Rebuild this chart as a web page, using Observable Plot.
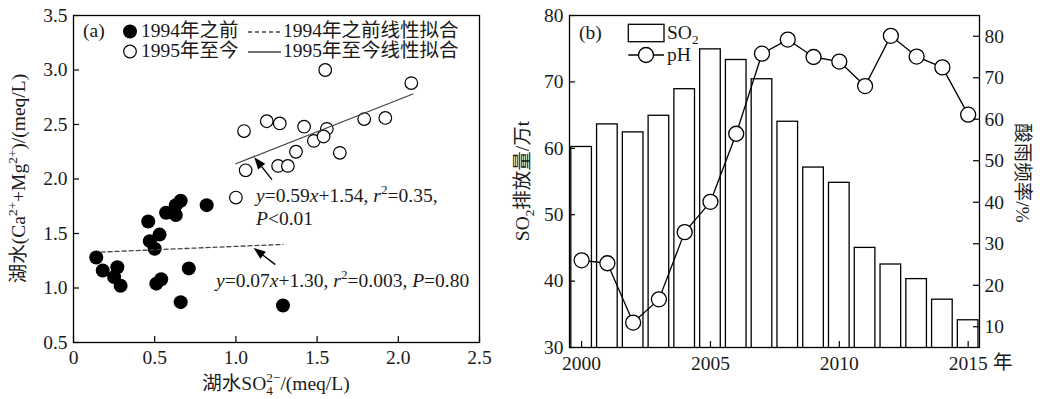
<!DOCTYPE html>
<html>
<head>
<meta charset="utf-8">
<script src="https://cdn.jsdelivr.net/npm/d3@7"></script>
<script src="https://cdn.jsdelivr.net/npm/@observablehq/plot@0.6"></script>
<style>
  html, body { margin: 0; padding: 0; background: #fff; }
  #wrap { position: relative; width: 1040px; height: 399px; overflow: hidden; }
  #wrap svg { position: absolute; top: 0; overflow: visible; }
</style>
</head>
<body>
<div id="wrap"></div>
<script>
// ---------------- Panel (a) data ----------------
const pre1994X  = [0.14, 0.18, 0.27, 0.25, 0.29, 0.46, 0.53, 0.47, 0.50, 0.51, 0.54, 0.66, 0.71, 0.57, 0.63, 0.63, 0.66, 0.82, 1.29];
const pre1994Y  = [1.28, 1.16, 1.19, 1.10, 1.02, 1.61, 1.49, 1.43, 1.36, 1.04, 1.08, 0.87, 1.18, 1.69, 1.67, 1.76, 1.80, 1.76, 0.84];
const post1995X = [1.05, 1.19, 1.27, 1.42, 1.56, 1.55, 1.79, 1.92, 2.08, 1.48, 1.54, 1.37, 1.64, 1.26, 1.32, 1.06, 1.00];
const post1995Y = [2.44, 2.53, 2.51, 2.48, 2.46, 3.00, 2.55, 2.56, 2.88, 2.35, 2.39, 2.25, 2.24, 2.12, 2.12, 2.08, 1.83];
const fitPreX  = [0.17, 1.29];
const fitPreY  = [1.33, 1.40];
const fitPostX = [1.00, 2.09];
const fitPostY = [2.14, 2.78];
// annotation arrows (tail -> tip), data units
const arrowX1 = [1.225, 1.246];
const arrowY1 = [1.99, 1.21];
const arrowX2 = [1.116, 1.112];
const arrowY2 = [2.195, 1.363];
const xTicksA = [0, 0.5, 1.0, 1.5, 2.0, 2.5];
const yTicksA = [0.5, 1.0, 1.5, 2.0, 2.5, 3.0, 3.5];

// ---------------- Panel (b) data ----------------
const years    = [2000, 2001, 2002, 2003, 2004, 2005, 2006, 2007, 2008, 2009, 2010, 2011, 2012, 2013, 2014, 2015];
const so2      = [60.2, 63.6, 62.4, 64.9, 68.9, 74.9, 73.3, 70.4, 64.0, 57.1, 54.8, 45.0, 42.5, 40.3, 37.2, 34.1];
const acidRain = [26.0, 25.3, 11.0, 16.6, 32.8, 40.1, 56.5, 75.8, 79.2, 75.0, 73.9, 68.0, 80.1, 75.1, 72.5, 61.1];
const xTicksB  = [2000, 2005, 2010, 2015];
const yTicksBL = [30, 40, 50, 60, 70, 80];
const yTicksBR = [10, 20, 30, 40, 50, 60, 70, 80];

// ---------------- common ----------------
const FONT = '"Liberation Serif", "Times New Roman", "Noto Sans CJK SC", serif';
const FS = 19.5;
const INK = "#1a1a1a";
const wrap = document.getElementById("wrap");
const fmt1 = d => d === 0 ? "0" : d.toFixed(1);

function scaleFn(chart, name) {
  const s = chart.scale(name);
  return s.apply ? (v => s.apply(v)) : d3.scaleLinear(s.domain, s.range);
}
// rich text helper: parts = [{t, i(italic), sup, sub, dx}]
function rich(sel, parts, size) {
  let shift = 0;
  for (const p of parts) {
    const ts = sel.append("tspan").text(p.t);
    let target = 0;
    if (p.sup) target = -0.42 * size;
    if (p.sub) target = 0.28 * size;
    const dy = target - shift;
    if (dy !== 0) ts.attr("dy", dy);
    shift = target;
    if (p.dx) ts.attr("dx", p.dx);
    if (p.sup || p.sub) ts.attr("font-size", size * 0.68);
    if (p.i) ts.attr("font-style", "italic");
  }
  return sel;
}

// ================= Panel (a) =================
const WA = 520, HA = 399, mlA = 73, mrA = 41, mtA = 15, mbA = 57;
const innerWA = WA - mlA - mrA, innerHA = HA - mtA - mbA;
const ptsPre  = pre1994X.map((x, i) => ({x, y: pre1994Y[i]}));
const ptsPost = post1995X.map((x, i) => ({x, y: post1995Y[i]}));
const fitPre  = fitPreX.map((x, i) => ({x, y: fitPreY[i]}));
const fitPost = fitPostX.map((x, i) => ({x, y: fitPostY[i]}));

const chartA = Plot.plot({
  width: WA, height: HA,
  marginLeft: mlA, marginRight: mrA, marginTop: mtA, marginBottom: mbA,
  style: {fontFamily: FONT, fontSize: FS + "px", color: INK, background: "none", overflow: "visible"},
  x: {domain: [0, 2.5]},
  y: {domain: [0.5, 3.5]},
  marks: [
    Plot.dot(ptsPre, {x: "x", y: "y", r: 7, fill: "#000", stroke: "none"}),
    Plot.dot(ptsPost, {x: "x", y: "y", r: 6.3, fill: "white", stroke: "#000", strokeWidth: 1.2}),
    Plot.line(fitPre, {x: "x", y: "y", stroke: "#444", strokeWidth: 1.3, strokeDasharray: "4,3"}),
    Plot.line(fitPost, {x: "x", y: "y", stroke: "#444", strokeWidth: 1.3}),
    Plot.frame({stroke: "#000", strokeWidth: 1.3}),
    Plot.tickX(xTicksA, {x: d => d, insetTop: innerHA - 6, stroke: "#000", strokeWidth: 1.2}),
    Plot.tickY(yTicksA, {y: d => d, insetRight: innerWA - 6, stroke: "#000", strokeWidth: 1.2}),
    Plot.axisX({ticks: xTicksA, tickSize: 0, tickPadding: 8, tickFormat: fmt1, label: null}),
    Plot.axisY({ticks: yTicksA, tickSize: 0, tickPadding: 6, tickFormat: fmt1, label: null})
  ]
});
chartA.style.left = "0px";
wrap.appendChild(chartA);

{
  const svg = d3.select(chartA);
  const sx = scaleFn(chartA, "x"), sy = scaleFn(chartA, "y");
  const g = svg.append("g").attr("font-family", FONT).attr("font-size", FS).attr("fill", INK)
    .attr("text-anchor", "start");

  // legend
  g.append("text").attr("x", 83).attr("y", 37).text("(a)");
  g.append("circle").attr("cx", 130).attr("cy", 31.5).attr("r", 7).attr("fill", "#000");
  g.append("text").attr("x", 141).attr("y", 37).text("1994年之前");
  g.append("line").attr("x1", 248).attr("x2", 281).attr("y1", 32).attr("y2", 32)
    .attr("stroke", "#444").attr("stroke-width", 1.3).attr("stroke-dasharray", "4,3");
  g.append("text").attr("x", 283).attr("y", 37).text("1994年之前线性拟合");
  g.append("circle").attr("cx", 130).attr("cy", 51.5).attr("r", 6.3).attr("fill", "white")
    .attr("stroke", "#000").attr("stroke-width", 1.2);
  g.append("text").attr("x", 141).attr("y", 57).text("1995年至今");
  g.append("line").attr("x1", 248).attr("x2", 281).attr("y1", 52).attr("y2", 52)
    .attr("stroke", "#444").attr("stroke-width", 1.3);
  g.append("text").attr("x", 283).attr("y", 57).text("1995年至今线性拟合");

  // equations
  rich(g.append("text").attr("x", 256).attr("y", 202),
    [{t: "y", i: 1}, {t: "=0.59"}, {t: "x", i: 1}, {t: "+1.54, "}, {t: "r", i: 1}, {t: "2", sup: 1}, {t: "=0.35,"}], FS);
  rich(g.append("text").attr("x", 256).attr("y", 225),
    [{t: "P", i: 1}, {t: "<0.01"}], FS);
  rich(g.append("text").attr("x", 216).attr("y", 287),
    [{t: "y", i: 1}, {t: "=0.07"}, {t: "x", i: 1}, {t: "+1.30, "}, {t: "r", i: 1}, {t: "2", sup: 1}, {t: "=0.003, "}, {t: "P", i: 1}, {t: "=0.80"}], FS);

  // arrows
  arrowX1.forEach((_, i) => {
    const x1 = sx(arrowX1[i]), y1 = sy(arrowY1[i]), x2 = sx(arrowX2[i]), y2 = sy(arrowY2[i]);
    const a = Math.atan2(y2 - y1, x2 - x1), L = 12, W = 4.5;
    const bx = x2 - L * Math.cos(a), by = y2 - L * Math.sin(a);
    g.append("line").attr("x1", x1).attr("y1", y1).attr("x2", bx).attr("y2", by)
      .attr("stroke", "#000").attr("stroke-width", 1.4);
    g.append("polygon").attr("points",
      `${x2},${y2} ${bx + W * Math.sin(a)},${by - W * Math.cos(a)} ${bx - W * Math.sin(a)},${by + W * Math.cos(a)}`)
      .attr("fill", "#000");
  });

  // axis titles
  const xt = g.append("text").attr("x", mlA + innerWA / 2).attr("y", 390).attr("text-anchor", "middle");
  rich(xt, [{t: "湖水SO"}, {t: "4", sub: 1}, {t: "2−", sup: 1, dx: -6.6}, {t: "/(meq/L)"}], FS);
  const yt = g.append("text").attr("transform", `translate(25,${mtA + innerHA / 2}) rotate(-90)`).attr("text-anchor", "middle");
  rich(yt, [{t: "湖水(Ca"}, {t: "2+", sup: 1}, {t: "+Mg"}, {t: "2+", sup: 1}, {t: ")/(meq/L)"}], FS);
}

// ================= Panel (b) =================
const WB = 520, HB = 399, mlB = 49, mrB = 61, mtB = 15, mbB = 52;
const innerWB = WB - mlB - mrB, innerHB = HB - mtB - mbB;
const xDomB = [1999.53, 2015.44];
const BAR_HALF = 0.4;
const bData = years.map((year, i) => ({year, so2: so2[i], acid: acidRain[i]}));

const chartB1 = Plot.plot({
  width: WB, height: HB,
  marginLeft: mlB, marginRight: mrB, marginTop: mtB, marginBottom: mbB,
  style: {fontFamily: FONT, fontSize: FS + "px", color: INK, background: "none", overflow: "visible"},
  x: {domain: xDomB},
  y: {domain: [30, 80]},
  marks: [
    Plot.rectY(bData, {x1: d => d.year - BAR_HALF, x2: d => d.year + BAR_HALF, y: "so2",
      fill: "white", stroke: "#000", strokeWidth: 1.3, clip: true}),
    Plot.frame({stroke: "#000", strokeWidth: 1.3}),
    Plot.tickX(xTicksB, {x: d => d, insetTop: innerHB - 6, stroke: "#000", strokeWidth: 1.2}),
    Plot.tickY(yTicksBL, {y: d => d, insetRight: innerWB - 6, stroke: "#000", strokeWidth: 1.2}),
    Plot.axisX({ticks: xTicksB, tickSize: 0, tickPadding: 9, tickFormat: d => String(d), label: null}),
    Plot.axisY({ticks: yTicksBL, tickSize: 0, tickPadding: 6, tickFormat: d => String(d), label: null})
  ]
});
chartB1.style.left = "520px";
wrap.appendChild(chartB1);

const chartB2 = Plot.plot({
  width: WB, height: HB,
  marginLeft: mlB, marginRight: mrB, marginTop: mtB, marginBottom: mbB,
  style: {fontFamily: FONT, fontSize: FS + "px", color: INK, background: "none", overflow: "visible"},
  x: {domain: xDomB, axis: null},
  y: {domain: [5, 85]},
  marks: [
    Plot.line(bData, {x: "year", y: "acid", stroke: "#000", strokeWidth: 1.3}),
    Plot.dot(bData, {x: "year", y: "acid", r: 7.5, fill: "white", stroke: "#000", strokeWidth: 1.3}),
    Plot.tickY(yTicksBR, {y: d => d, insetLeft: innerWB - 6, stroke: "#000", strokeWidth: 1.2}),
    Plot.axisY({anchor: "right", ticks: yTicksBR, tickSize: 0, tickPadding: 5, tickFormat: d => String(d), label: null})
  ]
});
chartB2.style.left = "520px";
wrap.appendChild(chartB2);

{
  const svg = d3.select(chartB2);
  const g = svg.append("g").attr("font-family", FONT).attr("font-size", FS).attr("fill", INK)
    .attr("text-anchor", "start");
  // legend (local coords, svg starts at x=520)
  g.append("text").attr("x", 59).attr("y", 39).text("(b)");
  g.append("rect").attr("x", 108.3).attr("y", 24.3).attr("width", 35.7).attr("height", 17.4)
    .attr("fill", "white").attr("stroke", "#000").attr("stroke-width", 1.3);
  rich(g.append("text").attr("x", 147).attr("y", 39), [{t: "SO"}, {t: "2", sub: 1}], FS);
  g.append("line").attr("x1", 108.3).attr("x2", 144).attr("y1", 55).attr("y2", 55)
    .attr("stroke", "#000").attr("stroke-width", 1.3);
  g.append("circle").attr("cx", 126).attr("cy", 55).attr("r", 7.5).attr("fill", "white")
    .attr("stroke", "#000").attr("stroke-width", 1.3);
  g.append("text").attr("x", 147).attr("y", 61).text("pH");
  // unit after x ticks
  g.append("text").attr("x", 473).attr("y", 369).text("年");
  // left title
  const yl = g.append("text").attr("transform", `translate(8.5,${mtB + innerHB / 2}) rotate(-90)`).attr("text-anchor", "middle");
  rich(yl, [{t: "SO"}, {t: "2", sub: 1}, {t: "排放量/万t"}], FS);
  // right title
  g.append("text").attr("transform", `translate(495.5,${mtB + innerHB / 2 - 8}) rotate(90)`)
    .attr("text-anchor", "middle").text("酸雨频率/%");
}
</script>
</body>
</html>
